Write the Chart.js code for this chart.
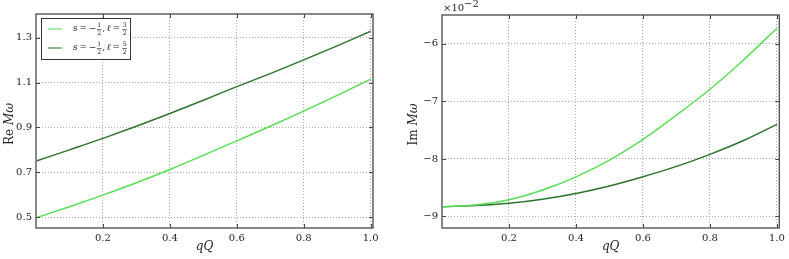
<!DOCTYPE html>
<html><head><meta charset="utf-8">
<script src="https://cdn.jsdelivr.net/npm/chart.js@4/dist/chart.umd.min.js"></script>
<style>
body{margin:0;background:#fff;width:789px;height:259px;overflow:hidden;position:relative}
#c1{position:absolute;left:0;top:0}
#c2{position:absolute;left:400px;top:0}
</style></head><body>
<canvas id="c1" width="400" height="259"></canvas>
<canvas id="c2" width="389" height="259"></canvas>
<script>
// ---------- data ----------
const qQ = [0.003, 0.1, 0.2, 0.3, 0.4, 0.5, 0.6, 0.7, 0.8, 0.9, 1.0];
const reL32 = [0.498, 0.546, 0.598, 0.653, 0.712, 0.775, 0.840, 0.905, 0.973, 1.043, 1.115];
const reL52 = [0.751, 0.800, 0.851, 0.905, 0.962, 1.021, 1.082, 1.140, 1.201, 1.264, 1.329];
const imL32 = [-0.0883, -0.0880, -0.0871, -0.0854, -0.0831, -0.0802, -0.0766, -0.0724, -0.0679, -0.0628, -0.0573];
const imL52 = [-0.0883, -0.0881, -0.0877, -0.0870, -0.0860, -0.0847, -0.0831, -0.0813, -0.0792, -0.0768, -0.0740];
const xTicks = [0.2, 0.4, 0.6, 0.8, 1.0];
const reTicks = [0.5, 0.7, 0.9, 1.1, 1.3];
const imTicks = [-0.09, -0.08, -0.07, -0.06];
const seriesNames = [
  [{t:'s',it:1},{t:'\u2009=\u2009−'},{f:['1','2']},{t:',\u2009'},{t:'ℓ',it:1},{t:'\u2009=\u2009'},{f:['3','2']}],
  [{t:'s',it:1},{t:'\u2009=\u2009−'},{f:['1','2']},{t:',\u2009'},{t:'ℓ',it:1},{t:'\u2009=\u2009'},{f:['5','2']}]
];
const LIGHT = '#55dd55', DARK = '#2b742b';
const FAM = '"DejaVu Serif", "Liberation Serif", serif';

function runsWidth(ctx, runs, size){
  let w = 0;
  runs.forEach(r=>{
    if (r.f){ ctx.font = (size*0.68)+'px '+FAM; w += Math.max(ctx.measureText(r.f[0]).width, ctx.measureText(r.f[1]).width)+2; }
    else { ctx.font = (r.it?'italic ':'')+size+'px '+FAM; w += ctx.measureText(r.t).width; }
  });
  return w;
}
function drawRuns(ctx, runs, x, y, size, center){
  let w = runsWidth(ctx, runs, size);
  let cx = center ? x - w/2 : x;
  ctx.textBaseline = 'middle'; ctx.textAlign = 'left';
  runs.forEach(r=>{
    if (r.f){
      const fs = size*0.68;
      ctx.font = fs+'px '+FAM;
      const fw = Math.max(ctx.measureText(r.f[0]).width, ctx.measureText(r.f[1]).width)+2;
      ctx.textAlign='center';
      ctx.fillText(r.f[0], cx+fw/2, y-fs*0.6);
      ctx.fillText(r.f[1], cx+fw/2, y+fs*0.65);
      ctx.textAlign='left';
      ctx.beginPath(); ctx.lineWidth=0.6; ctx.moveTo(cx+0.5,y+0.5); ctx.lineTo(cx+fw-0.5,y+0.5); ctx.stroke();
      cx += fw;
    } else {
      ctx.font = (r.it?'italic ':'')+size+'px '+FAM;
      ctx.fillText(r.t, cx, y);
      cx += ctx.measureText(r.t).width;
    }
  });
}

const framePlugin = {
  id: 'frame',
  afterDraw(chart, args, o){
    const {ctx, chartArea:a} = chart;
    const xs = chart.scales.x, ys = chart.scales.y;
    ctx.save();
    ctx.strokeStyle = '#444'; ctx.lineWidth = 1;
    ctx.beginPath();
    xs.ticks.forEach(t=>{
      const p = Math.round(xs.getPixelForValue(t.value))+0.5;
      ctx.moveTo(p, a.bottom); ctx.lineTo(p, a.bottom-4);
      ctx.moveTo(p, a.top); ctx.lineTo(p, a.top+4);
    });
    ys.ticks.forEach(t=>{
      const p = Math.round(ys.getPixelForValue(t.value))+0.5;
      ctx.moveTo(a.left, p); ctx.lineTo(a.left+4, p);
      ctx.moveTo(a.right, p); ctx.lineTo(a.right-4, p);
    });
    ctx.stroke();
    ctx.strokeStyle = '#555'; ctx.lineWidth = 1.4;
    ctx.strokeRect(a.left, a.top, a.right-a.left, a.bottom-a.top);
    ctx.fillStyle = '#222'; ctx.strokeStyle = '#222';
    drawRuns(ctx, [{t:'qQ',it:1}], (a.left+a.right)/2, 247, 12, true);
    ctx.save();
    ctx.translate(o.yTitleX, (a.top+a.bottom)/2+3);
    ctx.rotate(-Math.PI/2);
    drawRuns(ctx, o.yTitle, 0, 0, 12, true);
    ctx.restore();
    if (o.offsetText){
      drawRuns(ctx, [{t:'×10'}], a.left+1, 8, 10, false);
      ctx.font = '7px '+FAM; ctx.textBaseline='middle';
      const w = runsWidth(ctx,[{t:'×10'}],10);
      ctx.fillText('−2', a.left+1+w, 4);
    }
    if (o.legend){
      const chartDs = chart.data.datasets;
      ctx.fillStyle = '#fff';
      ctx.fillRect(41.5, 18.5, 89, 41);
      ctx.strokeStyle = '#333'; ctx.lineWidth = 1;
      ctx.strokeRect(41.5, 18.5, 89, 41);
      chartDs.forEach((ds,i)=>{
        const yy = 29 + i*19;
        ctx.strokeStyle = ds.borderColor; ctx.lineWidth = 1.4; ctx.globalAlpha = 0.75;
        ctx.beginPath(); ctx.moveTo(48, yy); ctx.lineTo(62, yy); ctx.stroke();
        ctx.globalAlpha = 1;
        ctx.fillStyle = '#222'; ctx.strokeStyle = '#222';
        drawRuns(ctx, seriesNames[i], 73, yy, 9, false);
      });
    }
    ctx.restore();
  }
};

function makeChart(id, d1, d2, yTicks, yMin, yMax, yW, padR, padT, opts, fmt){
  const ds = (data, col) => ({
    data: qQ.map((x,i)=>({x, y:data[i]})),
    borderColor: col, borderWidth: 1.4, pointRadius: 0, fill: false,
    cubicInterpolationMode: 'monotone'
  });
  return new Chart(document.getElementById(id), {
    type: 'line',
    data: { datasets: [ds(d1, LIGHT), ds(d2, DARK)] },
    plugins: [framePlugin],
    options: {
      responsive: false, animation: false,
      layout: { padding: { left: 0, right: padR, top: padT, bottom: 0 } },
      plugins: { legend: {display:false}, tooltip: {enabled:false}, frame: opts },
      scales: {
        x: {
          type: 'linear', min: 0.0, max: 1.007,
          afterBuildTicks: s => { s.ticks = xTicks.map(v=>({value:v})); },
          afterFit: s => { s.height = 31; },
          grid: { color: '#a8a8a8', lineWidth: 1, drawTicks: false, borderDash:[1,2] },
          border: { display: false, dash: [1,2] },
          ticks: { padding: 4, color: '#222', font: { family: FAM, size: 10 }, maxRotation: 0,
                   callback: v => v.toFixed(1) }
        },
        y: {
          type: 'linear', min: yMin, max: yMax,
          afterBuildTicks: s => { s.ticks = yTicks.map(v=>({value:v})); },
          afterFit: s => { s.width = yW; },
          grid: { color: '#a8a8a8', lineWidth: 1, drawTicks: false, borderDash:[1,2] },
          border: { display: false, dash: [1,2] },
          ticks: { padding: 4, color: '#222', font: { family: FAM, size: 10 }, callback: fmt }
        }
      }
    }
  });
}

makeChart('c1', reL32, reL52, reTicks, 0.451, 1.406, 36, 27, 14,
  { yTitle: [{t:'Re '},{t:'Mω',it:1}], yTitleX: 10, legend: true },
  v => v.toFixed(1));
makeChart('c2', imL32, imL52, imTicks, -0.092, -0.055, 42, 9, 15,
  { yTitle: [{t:'Im '},{t:'Mω',it:1}], yTitleX: 14, offsetText: true },
  v => (Math.round(v*100)).toString().replace('-', '−'));
</script>
</body></html>
